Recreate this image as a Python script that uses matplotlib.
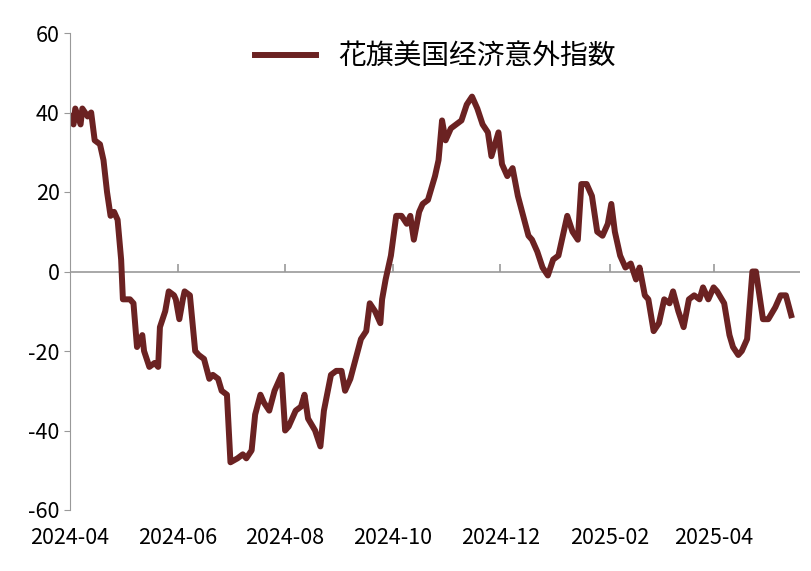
import matplotlib
matplotlib.use("Agg")
import matplotlib.pyplot as plt
from matplotlib import font_manager as fm
import numpy as np
import pandas as pd

start = "2024-04-01"
days = [0,2,3,6,7,10,12,14,17,19,21,23,25,27,29,30,34,36,38,41,42,45,48,50,51,54,56,59,60,62,64,65,68,71,73,76,79,81,84,86,89,91,95,98,100,103,105,108,110,113,116,120,122,124,128,131,133,135,139,142,144,148,151,154,156,159,162,165,168,170,173,176,177,179,182,185,188,191,193,195,198,200,203,207,209,211,213,216,219,222,225,228,231,234,237,239,243,245,248,251,254,257,260,262,265,268,271,274,277,279,282,285,288,290,293,296,299,302,305,307,309,312,315,318,321,323,326,328,331,334,337,340,342,345,348,351,354,357,359,362,365,367,371,374,376,379,381,384,387,389,393,396,400,403,406,409]
values = [39,37,41,37,41,39,40,33,32,28,20,14,15,13,3,-7,-7,-8,-19,-16,-20,-24,-23,-24,-14,-10,-5,-6,-7,-12,-7,-5,-6,-20,-21,-22,-27,-26,-27,-30,-31,-48,-47,-46,-47,-45,-36,-31,-33,-35,-30,-26,-40,-39,-35,-34,-31,-37,-40,-44,-35,-26,-25,-25,-30,-27,-22,-17,-15,-8,-10,-13,-7,-2,4,14,14,12,14,8,15,17,18,24,28,38,33,36,37,38,42,44,41,37,35,29,35,27,24,26,19,14,9,8,5,1,-1,3,4,8,14,10,8,22,22,19,10,9,12,17,10,4,1,2,-2,1,-6,-7,-15,-13,-7,-8,-5,-10,-14,-7,-6,-7,-4,-7,-4,-5,-8,-16,-19,-21,-20,-17,0,0,-12,-12,-9,-6,-6,-11]
tick_labels = ["2024-04","2024-06","2024-08","2024-10","2024-12","2025-02","2025-04"]
series_name = "花旗美国经济意外指数"

dates = pd.Timestamp(start) + pd.to_timedelta(days, unit="D")
tick_dates = pd.to_datetime([t + "-01" for t in tick_labels])

cjk = None
for f in sorted(fm.findSystemFonts()):
    if "CJK" in f and "Sans" in f and "Serif" not in f and "Bold" not in f:
        cjk = f
        break
if cjk:
    fm.fontManager.addfont(cjk)
    cjk_name = fm.FontProperties(fname=cjk).get_name()
else:
    cjk_name = "Noto Sans CJK SC"

plt.rcParams["font.family"] = [cjk_name, "DejaVu Sans"]
plt.rcParams["axes.unicode_minus"] = False
fig = plt.figure(figsize=(8.11, 5.71), dpi=100)
ax = fig.add_axes([70/811, 61/571, 730/811, 477/571])
ax.plot(dates, values, color="#6b2222", lw=4.3, label=series_name, solid_joinstyle="round")
ax.axhline(0, color="#999999", lw=1.2, zorder=0)
ax.vlines(tick_dates[1:], 0, 1.8, color="#999999", lw=1.2, zorder=0)
ax.set_ylim(-60, 60)
ax.set_yticks(np.arange(-60, 61, 20))
ax.set_xlim(pd.Timestamp("2024-04-01"), pd.Timestamp("2025-05-20"))
ax.set_xticks(tick_dates)
ax.set_xticklabels(tick_labels)
ax.tick_params(axis="x", length=0, labelsize=15.5, pad=12)
ax.tick_params(axis="y", labelsize=15.5, color="#999999", direction="out", length=4)
for s in ["top", "right", "bottom"]:
    ax.spines[s].set_visible(False)
ax.spines["left"].set_color("#999999")
ax.legend(loc="upper center", bbox_to_anchor=(0.5, 1.035), frameon=False,
          prop={"family": cjk_name, "size": 20}, handlelength=2.2)
fig.savefig("out.png", dpi=100)
